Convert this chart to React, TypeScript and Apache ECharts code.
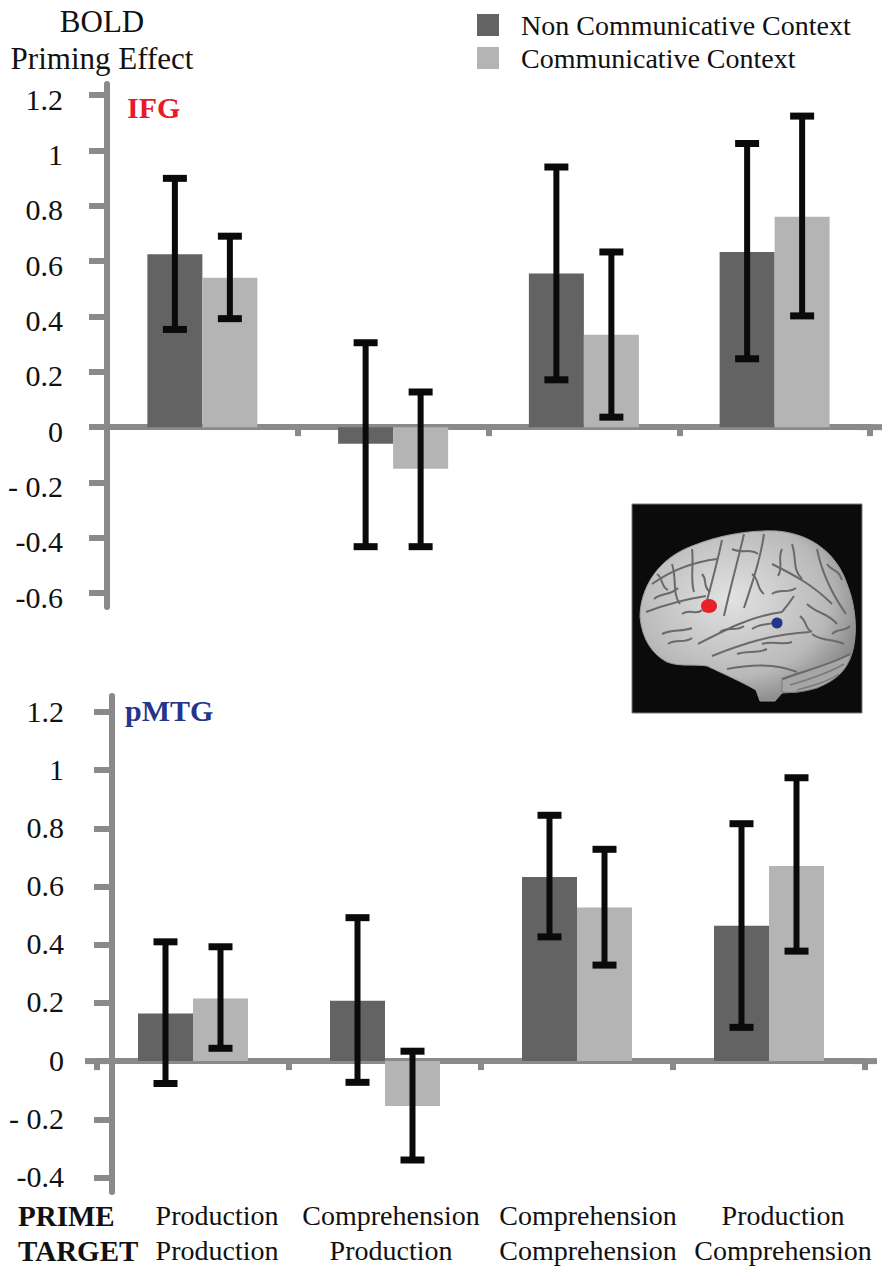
import React, { useEffect, useRef } from 'react';
import * as echarts from 'echarts';

// ---------- data ----------
const primeLabels = ['Production', 'Comprehension', 'Comprehension', 'Production'];
const targetLabels = ['Production', 'Production', 'Comprehension', 'Comprehension'];
const seriesNames = ['Non Communicative Context', 'Communicative Context'];

const ifgNonComm = [0.625, -0.06, 0.555, 0.633];
const ifgComm = [0.54, -0.15, 0.334, 0.76];
const ifgNonCommErr = [[0.353, 0.899], [-0.432, 0.305], [0.171, 0.94], [0.247, 1.025]];
const ifgCommErr = [[0.392, 0.69], [-0.432, 0.127], [0.036, 0.633], [0.402, 1.124]];

const pmtgNonComm = [0.164, 0.207, 0.633, 0.465];
const pmtgComm = [0.215, -0.154, 0.528, 0.671];
const pmtgNonCommErr = [[-0.077, 0.41], [-0.073, 0.493], [0.427, 0.845], [0.116, 0.816]];
const pmtgCommErr = [[0.044, 0.393], [-0.34, 0.034], [0.33, 0.728], [0.378, 0.974]];

const ifgTickValues = [-0.6, -0.4, -0.2, 0, 0.2, 0.4, 0.6, 0.8, 1, 1.2];
const ifgTickLabels = ['-0.6', '-0.4', '- 0.2', '0', '0.2', '0.4', '0.6', '0.8', '1', '1.2'];
const pmtgTickValues = [-0.4, -0.2, 0, 0.2, 0.4, 0.6, 0.8, 1, 1.2];
const pmtgTickLabels = ['-0.4', '- 0.2', '0', '0.2', '0.4', '0.6', '0.8', '1', '1.2'];
const ifgAxisRange = [-0.65, 1.24];
const pmtgAxisRange = [-0.45, 1.255];

// ---------- styles ----------
const FONT = '"Liberation Serif", "Times New Roman", serif';
const AXIS = '#8a8a8a';
const DARK = '#636363';
const LIGHT = '#b4b4b4';
const ERR = '#0a0a0a';
const BAR_W = 55;
const CAP_W = 24;
const LABEL_NUDGE = [48, 12, 22, 28];

const BRAIN_D =
  'M 8 113 C 8 85 25 55 60 42 C 90 30 120 26 145 27 C 180 30 205 50 215 80 C 225 105 226 135 218 155 C 210 172 190 184 165 188 L 150 189 L 143 197 L 128 197 L 124 186 C 110 178 92 170 75 162 C 62 160 48 163 35 158 C 20 150 10 135 8 113 Z';
const CEREB_D = 'M 150 176 C 175 166 200 160 219 150 C 216 165 205 176 185 184 C 172 188 160 189 150 188 Z';
echarts.graphic.registerShape('brain', echarts.graphic.extendPath(BRAIN_D, {}));
echarts.graphic.registerShape('cerebellum', echarts.graphic.extendPath(CEREB_D, {}));

const sulci: number[][] = [
  [66, 140, 95, 125, 120, 112, 150, 108],
  [150, 108, 155, 102, 158, 98, 162, 92],
  [112, 30, 105, 60, 98, 85, 92, 112],
  [90, 36, 85, 60, 78, 85, 72, 108],
  [132, 30, 128, 60, 118, 85, 112, 104],
  [80, 152, 110, 140, 140, 130, 178, 128],
  [20, 80, 40, 66, 60, 58, 85, 55],
  [14, 108, 35, 100, 55, 95, 74, 92],
  [140, 60, 160, 70, 180, 80, 200, 100],
  [150, 175, 175, 166, 200, 160, 218, 150],
  [185, 45, 190, 70, 200, 90, 214, 110],
  [95, 165, 120, 160, 145, 160, 165, 168],
  [40, 60, 45, 75, 40, 90, 48, 100],
  [60, 45, 62, 60, 58, 75, 62, 88],
  [160, 40, 165, 55, 160, 65, 170, 75],
  [30, 130, 40, 125, 50, 128, 60, 124],
  [175, 100, 185, 110, 195, 108, 205, 120],
  [120, 125, 130, 118, 140, 122, 150, 116],
  [22, 95, 30, 88, 38, 92, 46, 84],
  [100, 45, 110, 50, 118, 44, 126, 50],
  [150, 45, 145, 55, 152, 62, 146, 72],
  [180, 130, 190, 138, 200, 134, 212, 140],
  [105, 150, 115, 146, 125, 150, 135, 145],
  [195, 60, 200, 68, 206, 64, 210, 76],
  [50, 110, 58, 104, 64, 112, 70, 106],
  [25, 70, 32, 75, 28, 82, 36, 86],
  [70, 70, 76, 76, 70, 82, 78, 88],
  [120, 70, 128, 76, 124, 84, 132, 90],
  [140, 90, 148, 84, 156, 90, 164, 84],
  [168, 112, 176, 118, 172, 124, 180, 128],
  [200, 130, 206, 124, 212, 128, 218, 122],
  [88, 128, 96, 122, 104, 128, 112, 122],
  [36, 140, 44, 134, 52, 140, 60, 134],
  [130, 140, 140, 136, 150, 142, 160, 138],
];

const folia: number[][] = [
  [158, 181, 175, 176, 195, 170, 212, 160],
  [165, 186, 180, 182, 195, 178, 207, 170],
];

function labelFor(values: number[], labels: string[]) {
  return (v: number) => {
    const i = values.findIndex((t) => Math.abs(t - v) < 1e-9);
    return i >= 0 ? '{t|' + labels[i] + '}' : '';
  };
}

function errorSeries(data: number[][], axis: number, sign: number) {
  return {
    type: 'custom',
    xAxisIndex: axis,
    yAxisIndex: axis,
    z: 5,
    silent: true,
    data: data.map((d, i) => [i, d[0], d[1]]),
    encode: { x: 0, y: [1, 2] },
    renderItem: (params: any, api: any) => {
      const i = api.value(0);
      const lo = api.coord([i, api.value(1)]);
      const hi = api.coord([i, api.value(2)]);
      const x = lo[0] + (sign * BAR_W) / 2;
      return {
        type: 'group',
        children: [
          { type: 'line', shape: { x1: x, y1: hi[1], x2: x, y2: lo[1] }, style: { stroke: ERR, lineWidth: 6 } },
          { type: 'line', shape: { x1: x - CAP_W / 2, y1: hi[1], x2: x + CAP_W / 2, y2: hi[1] }, style: { stroke: ERR, lineWidth: 7 } },
          { type: 'line', shape: { x1: x - CAP_W / 2, y1: lo[1], x2: x + CAP_W / 2, y2: lo[1] }, style: { stroke: ERR, lineWidth: 7 } },
        ],
      };
    },
  };
}

function barSeries(name: string, data: number[], axis: number, color: string) {
  return {
    type: 'bar',
    name,
    xAxisIndex: axis,
    yAxisIndex: axis,
    data,
    barWidth: BAR_W,
    barGap: '0%',
    itemStyle: { color },
    silent: true,
  };
}

function valueAxis(grid: number, range: number[], ticks: number[], labels: string[], margin: number, pad: number[], offset: number) {
  return {
    type: 'value',
    gridIndex: grid,
    min: range[0],
    max: range[1],
    offset,
    axisLine: { show: true, lineStyle: { color: AXIS, width: 6 } },
    axisTick: { show: true, length: 18, lineStyle: { color: AXIS, width: 6 }, customValues: ticks },
    axisLabel: {
      customValues: ticks,
      formatter: labelFor(ticks, labels),
      margin,
      fontFamily: FONT,
      fontSize: 30,
      color: '#111',
      rich: { t: { fontFamily: FONT, fontSize: 30, color: '#111', padding: pad } },
    },
    splitLine: { show: false },
  };
}

const categories = primeLabels.map((p, i) => p + '\n' + targetLabels[i]);

const catRich: Record<string, any> = {};
LABEL_NUDGE.forEach((n, i) => {
  catRich['p' + i] = { fontFamily: FONT, fontSize: 28, lineHeight: 35, color: '#111', padding: [0, 0, 0, n] };
});

function buildOption() {
  return {
    animation: false,
    backgroundColor: '#ffffff',
    textStyle: { fontFamily: FONT, color: '#111' },
    title: [
      { text: 'IFG', left: 127, top: 92, padding: 0, textStyle: { fontFamily: FONT, fontSize: 30, fontWeight: 'bold', color: '#e8192c', lineHeight: 30 } },
      { text: 'pMTG', left: 125, top: 695, padding: 0, textStyle: { fontFamily: FONT, fontSize: 30, fontWeight: 'bold', color: '#26358c', lineHeight: 30 } },
    ],
    legend: {
      data: seriesNames,
      orient: 'vertical',
      left: 477,
      top: 11,
      padding: 0,
      itemWidth: 22,
      itemHeight: 22,
      itemGap: 5,
      icon: 'rect',
      selectedMode: false,
      textStyle: { fontFamily: FONT, fontSize: 28, color: '#111', padding: [0, 0, 0, 17] },
    },
    grid: [
      { left: 107, right: 22, top: 84, height: 523, outerBoundsMode: 'none', containLabel: false },
      { left: 97, right: 27, top: 696, height: 496, outerBoundsMode: 'none', containLabel: false },
    ],
    xAxis: [
      {
        type: 'category',
        gridIndex: 0,
        data: categories,
        axisLine: { show: true, lineStyle: { color: AXIS, width: 6 }, symbol: ['none', 'rect'], symbolSize: [6, 24] },
        axisTick: { show: true, length: 9, lineStyle: { color: AXIS, width: 6 } },
        axisLabel: { show: false },
        splitLine: { show: false },
      },
      {
        type: 'category',
        gridIndex: 1,
        data: categories,
        axisLine: { show: true, lineStyle: { color: AXIS, width: 6 }, symbol: ['rect', 'rect'], symbolSize: [6, 24] },
        axisTick: { show: true, length: 9, lineStyle: { color: AXIS, width: 6 } },
        axisLabel: {
          show: true,
          interval: 0,
          margin: 6,
          fontFamily: FONT,
          fontSize: 28,
          lineHeight: 35,
          color: '#111',
          formatter: (v: string, i: number) => '{p' + i + '|' + primeLabels[i] + '}\n{p' + i + '|' + targetLabels[i] + '}',
          rich: catRich,
        },
        splitLine: { show: false },
      },
    ],
    yAxis: [
      {
        ...valueAxis(0, ifgAxisRange, ifgTickValues, ifgTickLabels, 44, [8, 0, 0, 0], 0),
        name: 'BOLD\nPriming Effect',
        nameLocation: 'end',
        nameGap: 7,
        nameTextStyle: { fontFamily: FONT, fontSize: 31, lineHeight: 37, color: '#111', align: 'center', padding: [0, 10, 0, 0] },
      },
      valueAxis(1, pmtgAxisRange, pmtgTickValues, pmtgTickLabels, 48, [0, 0, 2, 0], -15),
    ],
    graphic: [
      {
        type: 'text',
        left: 18,
        top: 1198,
        style: { text: 'PRIME\nTARGET', fontFamily: FONT, fontSize: 29, fontWeight: 'bold', lineHeight: 35, fill: '#111' },
      },
      {
        type: 'group',
        x: 632,
        y: 504,
        silent: true,
        children: [
          { type: 'rect', shape: { x: 0, y: 0, width: 230, height: 209 }, style: { fill: '#0b0b0b', stroke: '#7a7a7a', lineWidth: 1 } },
          {
            type: 'brain',
            style: {
              fill: new echarts.graphic.RadialGradient(0.42, 0.4, 0.7, [
                { offset: 0, color: '#e2e2e2' },
                { offset: 0.65, color: '#b9b9b9' },
                { offset: 1, color: '#787878' },
              ]),
              stroke: '#9a9a9a',
              lineWidth: 1,
            },
          },
          { type: 'cerebellum', style: { fill: '#a6a6a6', stroke: '#7a7a7a', lineWidth: 1 } },
          ...sulci.map((c) => ({
            type: 'bezierCurve',
            shape: { x1: c[0], y1: c[1], cpx1: c[2], cpy1: c[3], cpx2: c[4], cpy2: c[5], x2: c[6], y2: c[7] },
            style: { stroke: '#6a6a6a', lineWidth: 2, fill: 'none' },
          })),
          ...folia.map((c) => ({
            type: 'bezierCurve',
            shape: { x1: c[0], y1: c[1], cpx1: c[2], cpy1: c[3], cpx2: c[4], cpy2: c[5], x2: c[6], y2: c[7] },
            style: { stroke: '#7a7a7a', lineWidth: 1.5, fill: 'none' },
          })),
          { type: 'ellipse', shape: { cx: 77, cy: 102, rx: 8, ry: 7 }, style: { fill: '#e8202a' } },
          { type: 'circle', shape: { cx: 145, cy: 119, r: 5.5 }, style: { fill: '#24358a' } },
        ],
      },
    ],
    series: [
      barSeries(seriesNames[0], ifgNonComm, 0, DARK),
      barSeries(seriesNames[1], ifgComm, 0, LIGHT),
      barSeries(seriesNames[0], pmtgNonComm, 1, DARK),
      barSeries(seriesNames[1], pmtgComm, 1, LIGHT),
      errorSeries(ifgNonCommErr, 0, -1),
      errorSeries(ifgCommErr, 0, 1),
      errorSeries(pmtgNonCommErr, 1, -1),
      errorSeries(pmtgCommErr, 1, 1),
    ],
  };
}

export default function App() {
  const ref = useRef<HTMLDivElement>(null);
  useEffect(() => {
    if (!ref.current) return;
    const chart = echarts.init(ref.current, undefined, { renderer: 'svg' });
    chart.setOption(buildOption() as any);
    return () => chart.dispose();
  }, []);
  return <div ref={ref} style={{ position: 'absolute', left: 0, top: 0, width: 892, height: 1276, background: '#fff' }} />;
}
